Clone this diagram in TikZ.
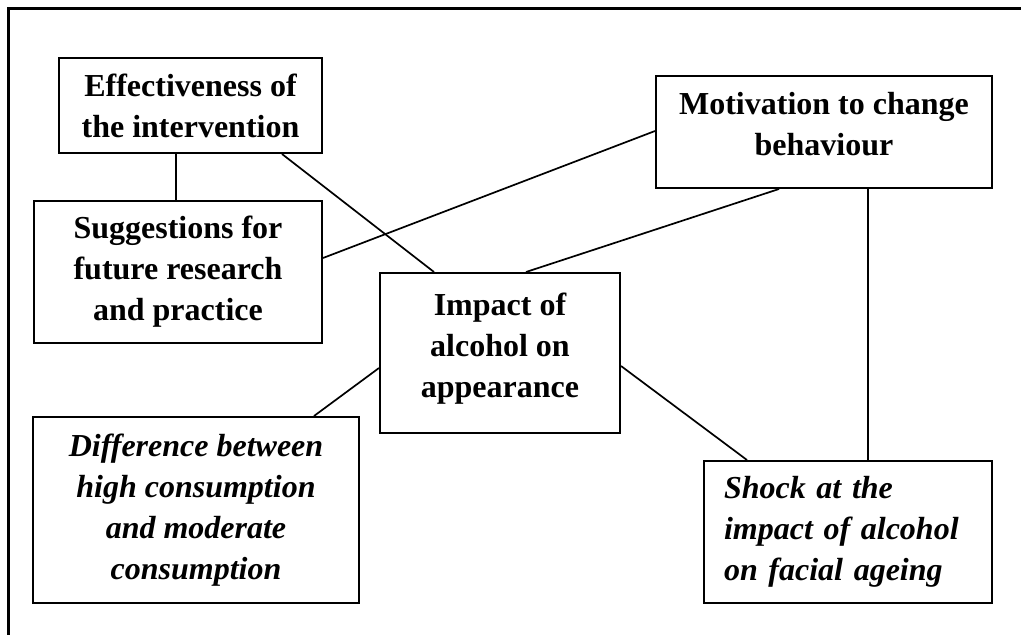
\documentclass[tikz,border=0pt]{standalone}
\usepackage{fontspec}
\setmainfont{Liberation Serif}
\usetikzlibrary{calc}
\begin{document}
\begin{tikzpicture}[x=1pt,y=-1pt,
  box/.style={draw,line width=2pt,inner sep=0pt,
    font=\fontsize{32}{41}\selectfont\bfseries,align=center},
  ibox/.style={box,font=\fontsize{32}{41}\selectfont\bfseries\itshape},
  link/.style={line width=1.7pt},
  frame/.style={line width=3.2pt}]
\useasboundingbox (0,0) rectangle (1021,635);
\coordinate (fbl) at (8.5,635);
\coordinate (ftl) at (8.5,8.5);
\coordinate (ftr) at (1021,8.5);
\draw[frame] (fbl) -- (ftl) -- (ftr);

\node[box,minimum width=263pt,minimum height=95pt] (eff) at (190.5,105.5)
  {Effectiveness of\\the intervention};
\node[box,minimum width=336pt,minimum height=112pt,text depth=16pt] (mot) at (824,132)
  {Motivation to change\\behaviour};
\node[box,minimum width=288pt,minimum height=142pt] (sug) at (178,272)
  {Suggestions for\\future research\\and practice};
\node[box,minimum width=240pt,minimum height=160pt,text depth=15pt] (imp) at (500,353)
  {Impact of\\alcohol on\\appearance};
\node[ibox,minimum width=326pt,minimum height=186pt] (dif) at (196,510)
  {Difference between\\high consumption\\and moderate\\consumption};
\node[ibox,minimum width=288pt,minimum height=142pt,text width=248pt,align=left] (sho) at (848,532)
  {Shock at the\\impact of alcohol\\on facial ageing};

\draw[link] ($(eff.south west)+(118,0)$) -- ($(sug.north west)+(143,0)$);
\draw[link] ($(eff.south west)+(224,0)$) -- ($(imp.north west)+(55,0)$);
\draw[link] ($(sug.north east)+(0,58)$) -- ($(mot.north west)+(0,56)$);
\draw[link] ($(mot.south west)+(124,0)$) -- ($(imp.north west)+(147,0)$);
\draw[link] ($(mot.south west)+(213,0)$) -- ($(sho.north west)+(165,0)$);
\draw[link] ($(imp.north west)+(0,96)$) -- ($(dif.north west)+(282,0)$);
\draw[link] ($(imp.north east)+(0,94)$) -- ($(sho.north west)+(44,0)$);
\end{tikzpicture}
\end{document}
